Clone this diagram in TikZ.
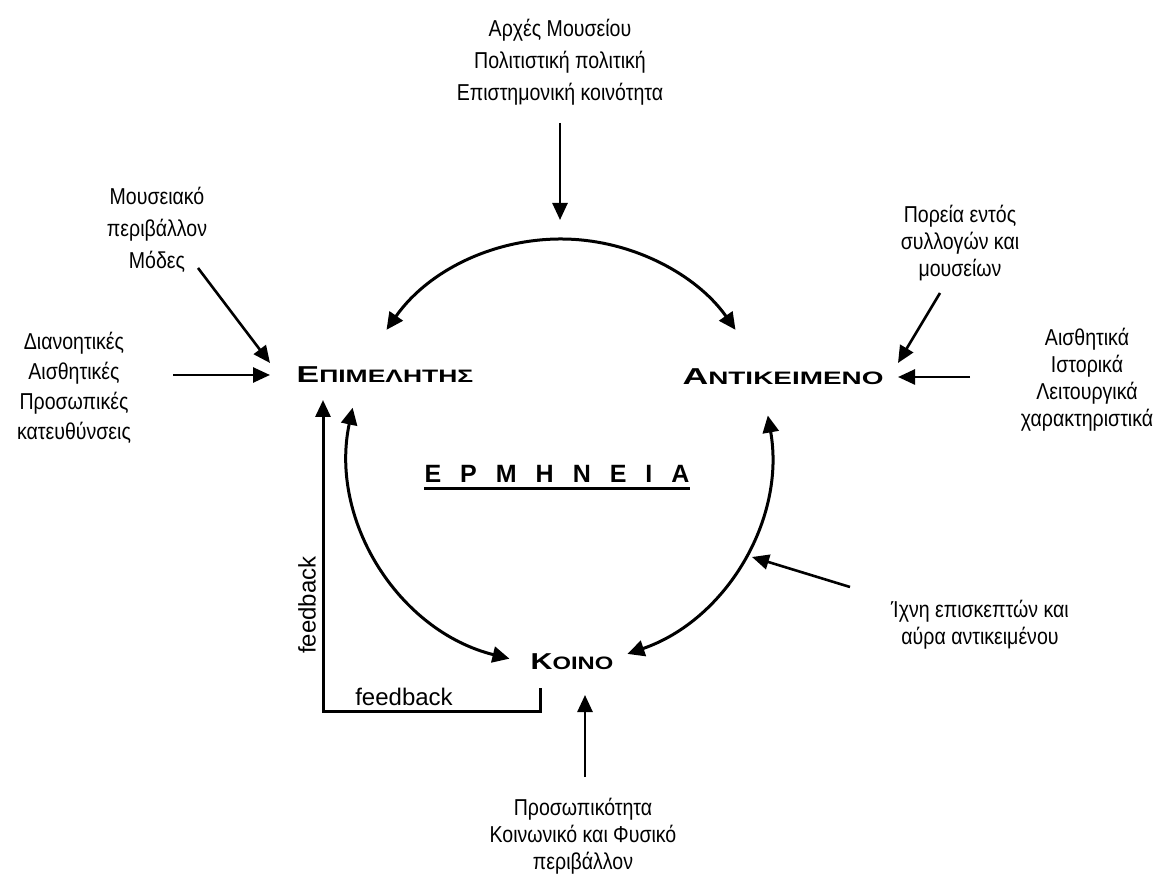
\documentclass[tikz,border=0pt]{standalone}
\usepackage{fontspec}
\usepackage{graphicx}
\setmainfont{Liberation Sans}
\newfontfamily\narrowgr[FakeStretch=0.85]{Liberation Sans}
\usetikzlibrary{arrows.meta,calc}
\newcommand\SCap[2]{{\fontsize{23}{23}\selectfont #1}{\fontsize{18}{18}\selectfont #2}}
\begin{document}
\begin{tikzpicture}[x=1pt,y=1pt,
  lbl/.style={align=center, inner sep=0, font=\narrowgr\fontsize{23}{27}\selectfont},
  arr/.style={-{Triangle[length=17pt,width=15pt]}, line width=2.6pt},
  darr/.style={{Triangle[length=17pt,width=16pt]}-{Triangle[length=17pt,width=16pt]}, line width=3pt},
  key/.style={font=\bfseries, inner sep=0}]
\useasboundingbox (0,0) rectangle (1158,873);
\fill[white] (0,0) rectangle (1158,873);

% text blocks
\node[lbl, font=\narrowgr\fontsize{23}{32}\selectfont] (top) at (560,811) {Αρχές Μουσείου\\Πολιτιστική πολιτική\\Επιστημονική κοινότητα};
\node[lbl, font=\narrowgr\fontsize{23}{32}\selectfont] (mous) at (157,643) {Μουσειακό\\περιβάλλον\\Μόδες};
\node[lbl, font=\narrowgr\fontsize{23}{30}\selectfont] (dian) at (74,485) {Διανοητικές\\Αισθητικές\\Προσωπικές\\κατευθύνσεις};
\node[lbl] (por) at (960,630) {Πορεία εντός\\συλλογών και\\μουσείων};
\node[lbl] (aisth) at (1087,493) {Αισθητικά\\Ιστορικά\\Λειτουργικά\\χαρακτηριστικά};
\node[lbl] (ichn) at (980,248) {Ίχνη επισκεπτών και\\αύρα αντικειμένου};
\node[lbl] (pros) at (583,37) {Προσωπικότητα\\Κοινωνικό και Φυσικό\\περιβάλλον};

% key nodes
\node[key] (epi) at (385,498) {\scalebox{1.47}[1]{\SCap{Ε}{ΠΙΜΕΛΗΤΗΣ}}};
\node[key] (ant) at (783,496) {\scalebox{1.55}[1]{\SCap{Α}{ΝΤΙΚΕΙΜΕΝΟ}}};
\node[key] (koi) at (572,211) {\scalebox{1.32}[1]{\SCap{Κ}{ΟΙΝΟ}}};
\node[key, anchor=base, font=\bfseries\fontsize{25}{25}\selectfont] (erm) at (557,390)
  {Ε\hspace{19pt}Ρ\hspace{19pt}Μ\hspace{19pt}Η\hspace{19pt}Ν\hspace{19pt}Ε\hspace{19pt}Ι\hspace{19pt}Α};
\draw[line width=3pt] ([yshift=-6pt]erm.base west) -- ([yshift=-6pt]erm.base east);

% feedback labels
\node[inner sep=0, font=\fontsize{24}{24}\selectfont] (fbh) at (404,176) {feedback};
\node[inner sep=0, rotate=90, font=\fontsize{24}{24}\selectfont] (fbv) at (307,268) {feedback};

% arrow end points
\coordinate (c) at (561,421);
\coordinate (t1) at (560,750);   \coordinate (t2) at (560,653);
\coordinate (m1) at (198,605);   \coordinate (m2) at (270,510);
\coordinate (d1) at (173,498);   \coordinate (d2) at (270,498);
\coordinate (p1) at (940,580);   \coordinate (p2) at (898,510);
\coordinate (a1) at (970,496);   \coordinate (a2) at (898,496);
\coordinate (i1) at (850,286);   \coordinate (i2) at (752,316);
\coordinate (b1) at (585,96);    \coordinate (b2) at (585,178);
\coordinate (f0) at (540,185);   \coordinate (f1) at (540,162);
\coordinate (f2) at (323,162);   \coordinate (f3) at (323,473);

\draw[arr] (t1) -- (t2);
\draw[arr] (m1) -- (m2);
\draw[arr] (d1) -- (d2);
\draw[arr] (p1) -- (p2);
\draw[arr] (a1) -- (a2);
\draw[arr] (i1) -- (i2);
\draw[arr] (b1) -- (b2);
\draw[arr, line width=3pt] (f0) -- (f1) -- (f2) -- (f3);

% interpretation circle
\coordinate (ctl) at ($(c)+(145:213)$);
\coordinate (crt) at ($(c)+(10:210)$);
\coordinate (cll) at ($(c)+(168:213)$);
\draw[darr] (ctl) arc[start angle=145, end angle=35, radius=213];
\draw[darr] (crt) arc[start angle=10, end angle=-71, radius=213];
\draw[darr] (cll) arc[start angle=168, end angle=256, radius=213];
\end{tikzpicture}
\end{document}
